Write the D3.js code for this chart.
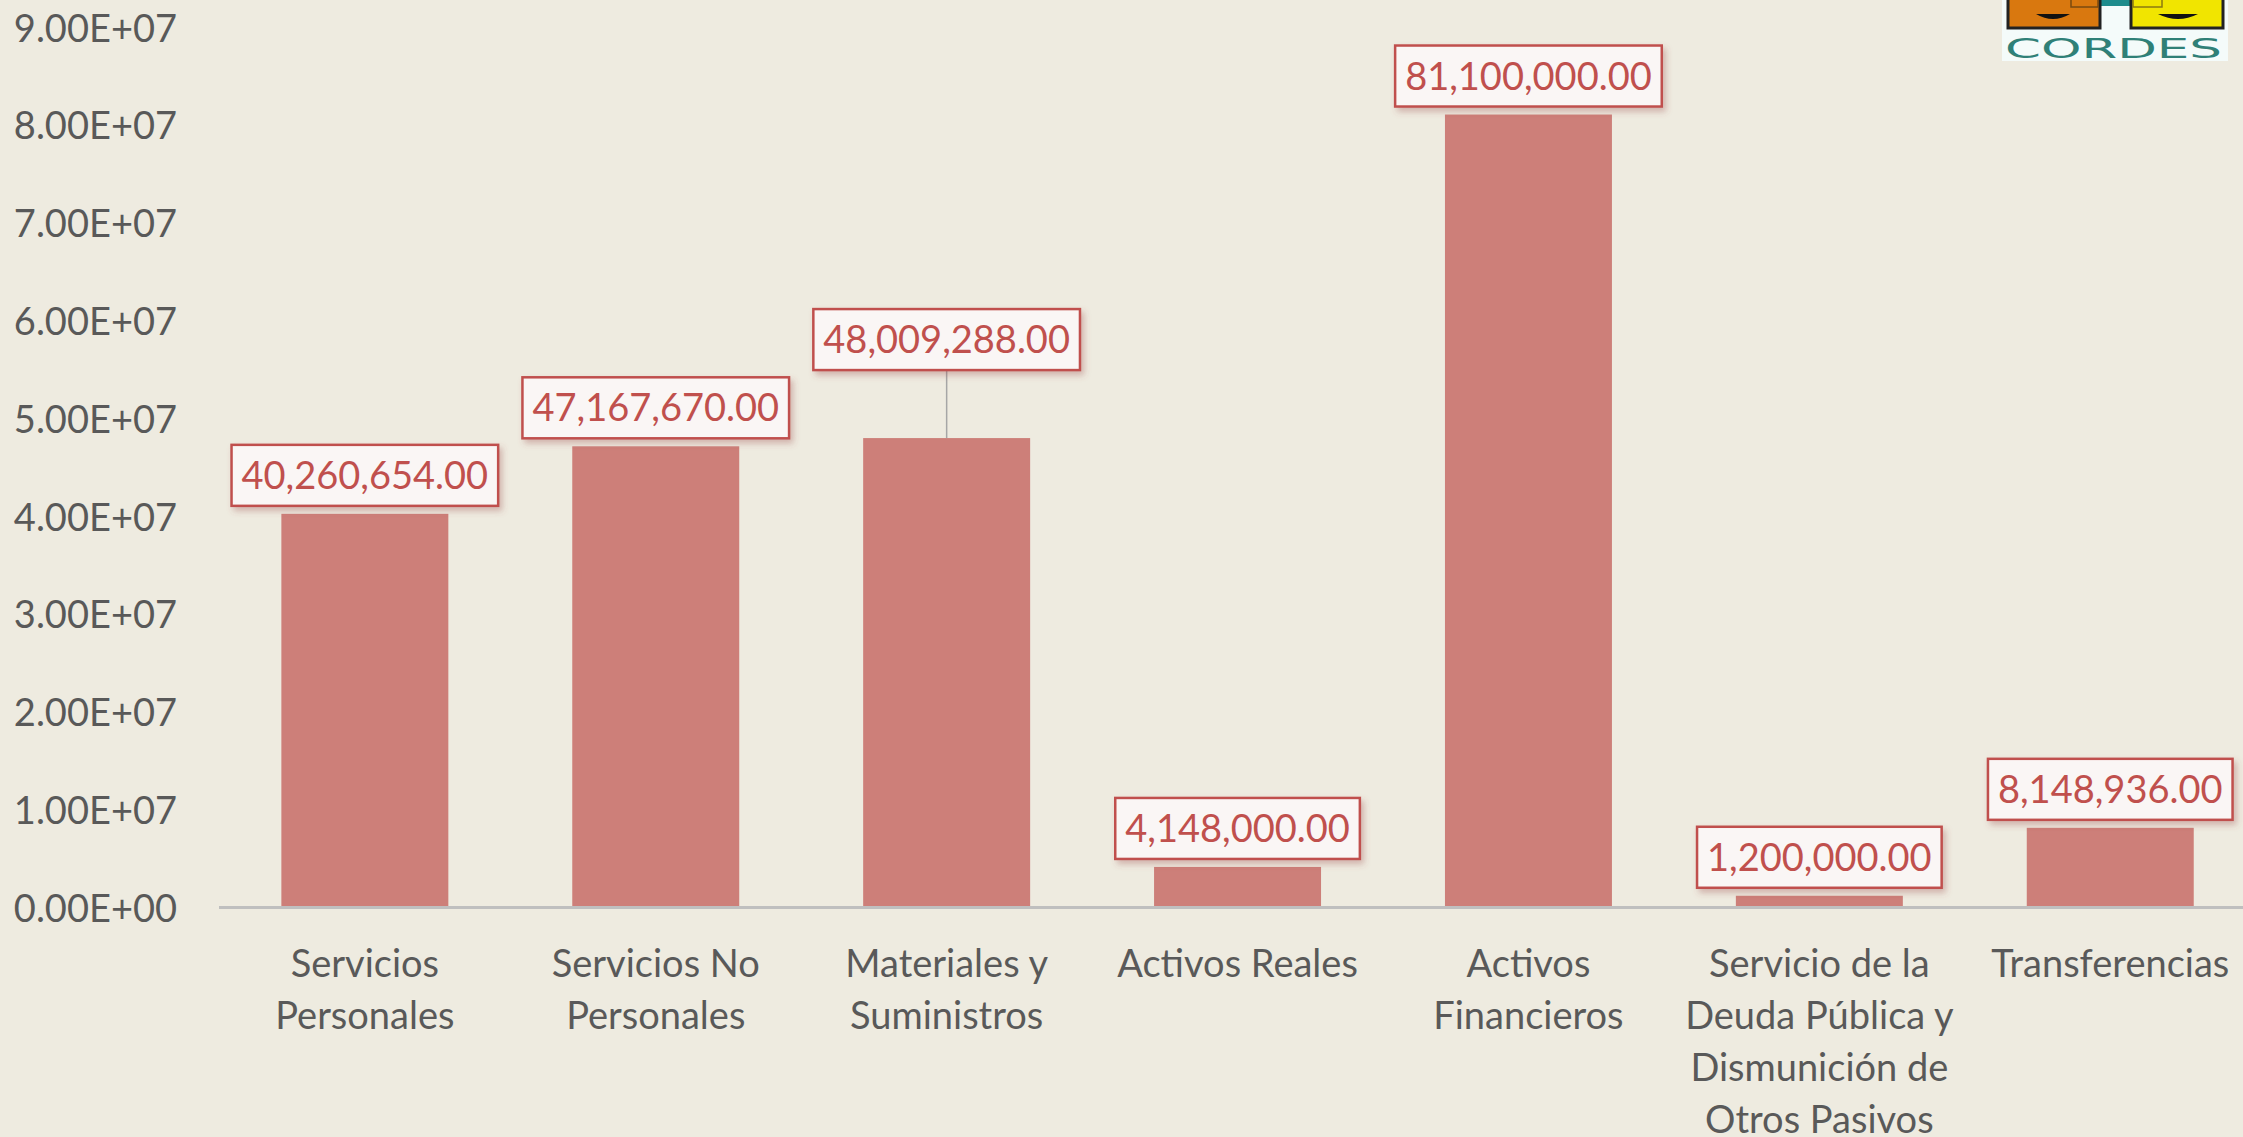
<!DOCTYPE html>
<html><head><meta charset="utf-8">
<script src="https://cdn.jsdelivr.net/npm/d3@7"></script>
<style>
html,body{margin:0;padding:0;background:#EEEBE0;}
svg{display:block;}
</style>
</head><body>
<svg id="chart" width="2243" height="1137"></svg>
<script>
// ---- data ----
const categories = [
  "Servicios Personales",
  "Servicios No Personales",
  "Materiales y Suministros",
  "Activos Reales",
  "Activos Financieros",
  "Servicio de la Deuda Pública y Dismunición de Otros Pasivos",
  "Transferencias"
];
const values = [40260654, 47167670, 48009288, 4148000, 81100000, 1200000, 8148936];
const yTicks = [0, 1e7, 2e7, 3e7, 4e7, 5e7, 6e7, 7e7, 8e7, 9e7];

// ---- layout ----
const W = 2243, H = 1137;
const plotLeft = 219.4, plotRight = 2255.7, yBottom = 907.5, yTop = 27.5;
const FONT = "Lato, 'Open Sans', sans-serif";
const FS = 38;
const barColor = "#CD7F79", labelRed = "#C0504D", textGray = "#595959";

const svg = d3.select("#chart");
svg.append("rect").attr("width", W).attr("height", H).attr("fill", "#EEEBE0");

const defs = svg.append("defs");
const f = defs.append("filter").attr("id", "shadow").attr("x", "-10%").attr("y", "-20%").attr("width", "130%").attr("height", "160%");
f.append("feDropShadow").attr("dx", 3).attr("dy", 4).attr("stdDeviation", 3)
  .attr("flood-color", "#9a4a46").attr("flood-opacity", 0.35);

const x = d3.scaleBand().domain(categories).range([plotLeft, plotRight])
  .paddingInner(0.426).paddingOuter(0.213);
const y = d3.scaleLinear().domain([0, 9e7]).range([yBottom, yTop]);

function sci(v) {
  const [m, e] = d3.format(".2e")(v).split("e");
  const n = +e;
  return m + "E" + (n < 0 ? "-" : "+") + String(Math.abs(n)).padStart(2, "0");
}

// y axis (labels only)
const yAxis = d3.axisLeft(y).tickValues(yTicks).tickFormat(sci).tickSize(0).tickPadding(0);
const yg = svg.append("g").attr("transform", "translate(177,0)").call(yAxis);
yg.select(".domain").remove();
yg.selectAll("text").attr("font-family", FONT).attr("font-size", FS).attr("fill", textGray)
  .attr("dy", "0.36em");

// bars
svg.append("g").selectAll("rect").data(values).join("rect")
  .attr("x", (d, i) => x(categories[i]))
  .attr("y", d => y(d))
  .attr("width", x.bandwidth())
  .attr("height", d => y(0) - y(d))
  .attr("fill", barColor);

// x axis baseline
const xAxis = d3.axisBottom(x).tickSize(0).tickFormat("");
const xg = svg.append("g").attr("transform", `translate(0,${yBottom})`).call(xAxis);
xg.select(".domain").attr("stroke", "#BFBFBF").attr("stroke-width", 3)
  .attr("d", `M${plotLeft - 0.4},0H${W}`);

// x labels with wrapping
const wrapWidth = 290, lineH = 52, firstBaseline = 977 - yBottom;
xg.selectAll(".tick").each(function(cat) {
  const g = d3.select(this);
  g.selectAll("text").remove();
  const t = g.append("text").attr("font-family", FONT).attr("font-size", FS)
    .attr("fill", textGray).attr("text-anchor", "middle");
  const words = cat.split(/\s+/);
  let lines = [], cur = [];
  const probe = t.append("tspan");
  words.forEach(w => {
    const test = cur.concat([w]).join(" ");
    probe.text(test);
    if (probe.node().getComputedTextLength() > wrapWidth && cur.length) {
      lines.push(cur.join(" ")); cur = [w];
    } else cur.push(w);
  });
  if (cur.length) lines.push(cur.join(" "));
  probe.remove();
  lines.forEach((ln, i) => {
    t.append("tspan").attr("x", 0).attr("y", firstBaseline + i * lineH).text(ln);
  });
});

// data labels
const fmt = d3.format(",.2f");
const labelLift = [0, 0, 60, 0, 0, 0, 0]; // manual nudge (index 2 moved up with leader)
const boxH = 61, gap = 8, padX = 10;
const lg = svg.append("g");
values.forEach((v, i) => {
  const cx = x(categories[i]) + x.bandwidth() / 2;
  const barTop = y(v);
  const boxBottom = barTop - gap - labelLift[i];
  const g = lg.append("g");
  if (labelLift[i] > 0) {
    g.append("line").attr("x1", cx).attr("x2", cx).attr("y1", boxBottom).attr("y2", barTop)
      .attr("stroke", "#A6A6A6").attr("stroke-width", 1.5);
  }
  const rect = g.append("rect");
  const txt = g.append("text").attr("x", cx).attr("y", boxBottom - boxH / 2)
    .attr("dy", "0.36em").attr("text-anchor", "middle")
    .attr("font-family", FONT).attr("font-size", FS).attr("fill", labelRed).text(fmt(v));
  const tw = txt.node().getComputedTextLength();
  rect.attr("x", cx - tw / 2 - padX).attr("y", boxBottom - boxH)
    .attr("width", tw + 2 * padX).attr("height", boxH)
    .attr("fill", "#FAF6F5").attr("stroke", labelRed).attr("stroke-width", 2.5)
    .attr("filter", "url(#shadow)");
});

// logo (top right)
const logo = svg.append("g");
logo.append("rect").attr("x", 2002).attr("y", 0).attr("width", 226).attr("height", 61).attr("fill", "#F4FBFA");
logo.append("rect").attr("x", 2100).attr("y", 0).attr("width", 31).attr("height", 6).attr("fill", "#1E8C8C");
logo.append("rect").attr("x", 2008).attr("y", -4).attr("width", 92).attr("height", 32)
  .attr("fill", "#D9780F").attr("stroke", "#222").attr("stroke-width", 3);
logo.append("rect").attr("x", 2131).attr("y", -4).attr("width", 92).attr("height", 32)
  .attr("fill", "#F1E500").attr("stroke", "#222").attr("stroke-width", 3);
logo.append("rect").attr("x", 2071).attr("y", -3).attr("width", 27).attr("height", 10)
  .attr("fill", "none").attr("stroke", "#7a4a10").attr("stroke-width", 1.5);
logo.append("rect").attr("x", 2133).attr("y", -3).attr("width", 29).attr("height", 10)
  .attr("fill", "none").attr("stroke", "#8a7a10").attr("stroke-width", 1.5);
logo.append("path").attr("d", "M2036,14 Q2053,24 2070,14 Z").attr("fill", "#111");
logo.append("path").attr("d", "M2158,14 Q2178,24 2198,14 Z").attr("fill", "#111");
logo.append("text").attr("x", 2005).attr("y", 58).attr("textLength", 217)
  .attr("lengthAdjust", "spacingAndGlyphs")
  .attr("font-family", "'DejaVu Sans', sans-serif").attr("font-size", 27)
  .attr("fill", "#2F8077").text("CORDES");
</script>
</body></html>
